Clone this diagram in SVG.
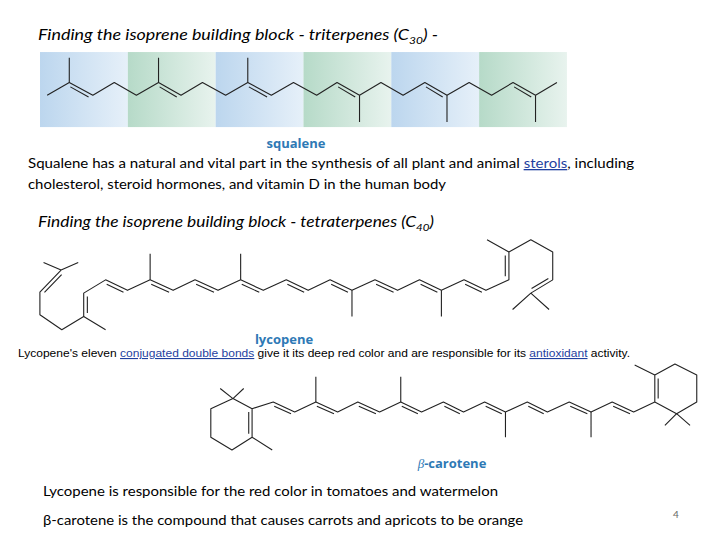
<svg xmlns="http://www.w3.org/2000/svg" width="720" height="540" viewBox="0 0 720 540">
<defs>
<linearGradient id="gb" x1="0" x2="1" y1="0" y2="0"><stop offset="0" stop-color="#bcd6ee"/><stop offset="1" stop-color="#e6f0f9"/></linearGradient>
<linearGradient id="gg" x1="0" x2="1" y1="0" y2="0"><stop offset="0" stop-color="#b6dac8"/><stop offset="1" stop-color="#e8f3ee"/></linearGradient>
</defs>
<style>
.b{fill:none;stroke:#222;stroke-width:1.1;vector-effect:non-scaling-stroke;stroke-linejoin:round}
.t{font-family:Lato,"Open Sans",sans-serif;fill:#000}
.h{font-size:15px;font-style:italic}
.n{font-size:13px}
.lbl{font-family:"Open Sans",sans-serif;font-size:13px;font-weight:bold;fill:#2e79b5}
.lk{fill:#1f3fa0;text-decoration:underline}
</style>
<rect width="720" height="540" fill="#fff"/>

<text class="t h" x="38" y="40" textLength="400" lengthAdjust="spacingAndGlyphs">Finding the isoprene building block - <tspan>triterpenes (C</tspan><tspan font-size="10" dy="4">30</tspan><tspan dy="-4">) -</tspan></text>

<g id="squalene" transform="translate(29.3,39.2) scale(0.357,0.338)">
<rect x="30" y="38" width="246" height="222" fill="url(#gb)"/>
<rect x="276" y="38" width="246" height="222" fill="url(#gg)"/>
<rect x="522" y="38" width="246" height="222" fill="url(#gb)"/>
<rect x="768" y="38" width="246" height="222" fill="url(#gg)"/>
<rect x="1014" y="38" width="246" height="222" fill="url(#gb)"/>
<rect x="1260" y="38" width="246" height="222" fill="url(#gg)"/>
<path class="b" d="M50,166 L112,128 L178,166 L238,128 L300,166 L362,128 L425,166 L485,128 L550,166 L612,128 L678,166 L740,128 L805,166 L862,128 L925,166 L985,128 L1047,166 L1108,128 L1170,166 L1232,128 L1295,166 L1355,128 L1418,166 L1478,128"/>
<path class="b" d="M112,128V55 M362,128V55 M612,128V55 M925,166V245 M1170,166V245 M1418,166V245"/>
<path class="b" d="M115,141L166,171 M365,141L413,171 M615,141L666,171 M865,141L913,171 M1111,141L1158,171 M1358,141L1406,171"/>
</g>
<text class="lbl" x="296" y="148" text-anchor="middle">squalene</text>

<text class="t n" x="28" y="168" textLength="606" lengthAdjust="spacingAndGlyphs">Squalene  has a natural and vital part in the synthesis of all plant and animal <tspan class="lk">sterols</tspan>, including</text>
<text class="t n" x="28" y="189" textLength="418" lengthAdjust="spacingAndGlyphs">cholesterol, steroid hormones, and vitamin D in the human body</text>

<text class="t h" x="38" y="227" textLength="396" lengthAdjust="spacingAndGlyphs">Finding the isoprene building block - tetraterpenes (C<tspan font-size="10" dy="4">40</tspan><tspan dy="-4">)</tspan></text>

<g id="lycopene" transform="translate(18,231) scale(0.365,0.349)">
<path class="b" d="M118,112 L60,175 L60,240 L120,283 L180,245 L180,178 L240,140 L300,170 L362,140 L425,170 L485,140 L548,170 L610,140 L672,170 L735,140 L795,170 L855,140 L915,170 L978,140 L1040,170 L1100,140 L1160,170 L1222,140 L1282,170 L1345,140 L1345,60 L1405,25 L1465,60 L1465,140 L1405,178"/>
<path class="b" d="M118,112L70,90 M118,112L165,90 M180,245L240,283 M362,140V65 M610,140V65 M915,170V245 M1160,170V245 M1345,60L1285,25 M1405,178L1355,225 M1405,178L1455,225"/>
<path class="b" d="M119.5,125L72.5,176 M190,188V235 M243,152.5L289,175.5 M365,152.5L414,175.5 M488,152.5L537,175.5 M613,152.5L661,175.5 M738,152.5L784,175.5 M858,152.5L904,175.5 M981,152.5L1029,175.5 M1103,152.5L1149,175.5 M1225,152.5L1271,175.5 M1335,70V130 M1453,136L1407,165"/>
</g>
<text class="lbl" x="284" y="344" text-anchor="middle">lycopene</text>

<text x="18" y="357" font-family="Liberation Sans,Arial,sans-serif" font-size="11" textLength="612" lengthAdjust="spacingAndGlyphs">Lycopene's eleven <tspan class="lk">conjugated double bonds</tspan> give it its deep red color and are responsible for its <tspan class="lk">antioxidant</tspan> activity.</text>

<g id="beta-carotene" transform="translate(190,360) scale(0.3356)">
<path class="b" d="M128,115 L185,145 L185,230 L125,268 L62,230 L62,145 Z M185,145 L248,125 L312,155 L375,125 L440,155 L500,125 L565,155 L628,125 L690,155 L755,125 L815,155 L878,125 L940,155 L1005,125 L1065,155 L1130,125 L1195,155 L1258,125 L1322,155 L1385,125 M1385,125 L1385,45 L1445,12 L1510,45 L1510,125 L1450,160 Z"/>
<path class="b" d="M128,115L90,85 M128,115L160,85 M185,230L245,268 M375,125V50 M628,125V50 M940,155V230 M1195,155V230 M1385,45L1325,15 M1450,160L1415,195 M1450,160L1490,195"/>
<path class="b" d="M175,155V220 M251,137.5L301,160.5 M378,137.5L429,160.5 M503,137.5L554,160.5 M631,137.5L679,160.5 M758,137.5L804,160.5 M881,137.5L929,160.5 M1008,137.5L1054,160.5 M1133,137.5L1184,160.5 M1261,137.5L1311,160.5 M1395,55V115"/>
</g>
<text class="lbl" x="452" y="468" text-anchor="middle"><tspan font-family="Liberation Serif,serif" font-style="italic" font-weight="normal">β</tspan>-carotene</text>

<text class="t n" x="43" y="496" textLength="455" lengthAdjust="spacingAndGlyphs">Lycopene is responsible for the red color in tomatoes and watermelon</text>
<text class="t n" x="43" y="525" textLength="480" lengthAdjust="spacingAndGlyphs">β-carotene is the compound that causes carrots and apricots to be orange</text>
<text x="673" y="518" font-family="Lato,sans-serif" font-size="10" fill="#666">4</text>
</svg>
